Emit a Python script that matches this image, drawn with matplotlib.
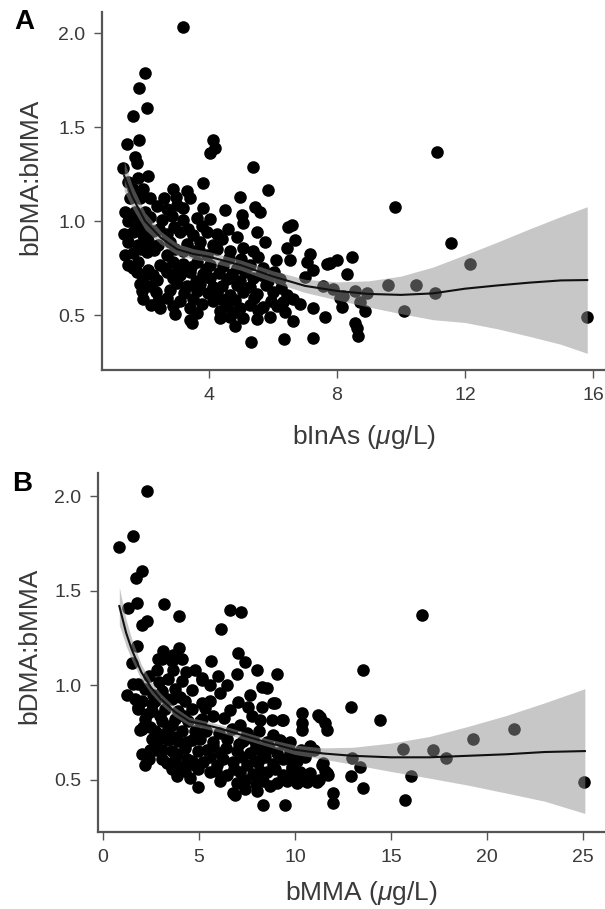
import matplotlib
matplotlib.use("Agg")
import matplotlib.pyplot as plt
import numpy as np

plt.rcParams['font.family'] = ['Liberation Sans', 'DejaVu Sans']
plt.rcParams['mathtext.fontset'] = 'custom'
plt.rcParams['mathtext.it'] = 'Liberation Sans:italic'
plt.rcParams['mathtext.rm'] = 'Liberation Sans'

# ---------------- Panel A data: bInAs vs bDMA:bMMA ----------------
panel_a_points = [
    (3.19, 2.03), (2.00, 1.79), (1.81, 1.71), (2.05, 1.60), (1.63, 1.56), (1.43, 1.41), (1.82, 1.43),
    (1.69, 1.34), (1.76, 1.31), (1.32, 1.28), (2.10, 1.24), (1.79, 1.23), (1.48, 1.21),
    (4.13, 1.43), (4.19, 1.39), (4.03, 1.36), (5.38, 1.29), (5.85, 1.165), (3.81, 1.20), (2.88, 1.17),
    (3.32, 1.16), (3.41, 1.12), (4.97, 1.126), (3.82, 1.07), (4.50, 1.06), (5.44, 1.076), (5.59, 1.05),
    (5.02, 1.03), (6.48, 0.97), (4.60, 0.96), (5.07, 0.99), (5.49, 0.94), (6.69, 0.90), (6.43, 0.855),
    (5.75, 0.89), (7.16, 0.824), (6.53, 0.79), (7.05, 0.78), (7.78, 0.775), (7.99, 0.79), (8.30, 0.72),
    (8.46, 0.81), (8.20, 0.60), (7.26, 0.74), (7.63, 0.49), (6.84, 0.56), (7.26, 0.535), (6.32, 0.57),
    (6.63, 0.47), (5.91, 0.49), (5.49, 0.48), (4.81, 0.44), (4.66, 0.49), (5.31, 0.356), (6.34, 0.37),
    (7.25, 0.38), (3.47, 0.46),
    (9.81, 1.076), (11.12, 1.365), (11.55, 0.881), (12.16, 0.77), (15.82, 0.49), (9.60, 0.66),
    (10.46, 0.66), (11.06, 0.615), (10.10, 0.52), (7.70, 0.77), (6.58, 0.98), (7.00, 0.70),
    (7.57, 0.654), (7.88, 0.64), (8.56, 0.63), (8.95, 0.615), (8.09, 0.59), (8.15, 0.545),
    (8.72, 0.57), (8.88, 0.52), (8.56, 0.455), (8.62, 0.43), (8.67, 0.39),
    (2.37, 1.081), (2.68, 1.066), (2.99, 1.085), (3.20, 1.071),
    (1.53, 1.019), (1.84, 1.004), (2.16, 1.022), (2.52, 1.008), (2.84, 1.025), (3.20, 1.003),
    (3.62, 1.018), (4.03, 1.010), (1.47, 1.00),
    (1.63, 0.942), (1.95, 0.926), (2.26, 0.947), (2.68, 0.930), (3.09, 0.944), (3.51, 0.925),
    (3.93, 0.941), (4.24, 0.931),
    (1.48, 0.889), (1.79, 0.874), (2.10, 0.893), (2.42, 0.870), (2.78, 0.886), (3.30, 0.876),
    (3.72, 0.890), (4.13, 0.872),
    (2.05, 0.835), (2.68, 0.820), (3.51, 0.838), (3.93, 0.821), (1.63, 0.83),
    (1.48, 0.768), (1.79, 0.782), (2.47, 0.766), (2.88, 0.784), (3.20, 0.770), (3.62, 0.781), (4.03, 0.767),
    (1.74, 0.729), (2.26, 0.715), (2.68, 0.731), (3.09, 0.712), (3.41, 0.728), (3.82, 0.716), (1.95, 0.70),
    (1.84, 0.667), (2.16, 0.652), (2.99, 0.668), (3.30, 0.655), (3.72, 0.664), (4.13, 0.651),
    (1.95, 0.587), (2.42, 0.573), (2.68, 0.590), (3.09, 0.575), (3.51, 0.585), (4.13, 0.572),
    (2.47, 0.535), (3.41, 0.535), (3.41, 0.473),
    (1.53, 1.12), (1.84, 1.12), (2.16, 1.12), (1.63, 1.17), (1.95, 1.17), (1.38, 1.05), (1.69, 1.05), (2.00, 1.05),
    (4.24, 0.852), (4.66, 0.838), (5.07, 0.855), (5.38, 0.840),
    (4.45, 0.763), (4.87, 0.750), (5.28, 0.766), (5.70, 0.752),
    (4.55, 0.692), (4.97, 0.679), (5.38, 0.695), (5.85, 0.681), (6.22, 0.690),
    (4.24, 0.621), (4.66, 0.608), (5.07, 0.624), (5.49, 0.610), (6.01, 0.620), (6.43, 0.607),
    (4.55, 0.550), (4.97, 0.538), (5.28, 0.553), (5.70, 0.540), (6.12, 0.548),
    (4.34, 0.484), (5.07, 0.484),
    # additional points filling the dense cloud
    (1.71, 0.962), (2.03, 0.975), (2.43, 0.958), (2.91, 0.968), (3.33, 0.955), (3.78, 0.972),
    (1.88, 0.853), (2.29, 0.846), (2.93, 0.851), (3.18, 0.838), (3.68, 0.848),
    (1.62, 0.748), (2.09, 0.742), (2.61, 0.752), (3.02, 0.738), (3.43, 0.757), (3.91, 0.744),
    (2.37, 0.688), (2.86, 0.695), (3.58, 0.683), (4.02, 0.697),
    (1.91, 0.628), (2.33, 0.621), (2.79, 0.634), (3.21, 0.617), (3.63, 0.630), (3.97, 0.615),
    (2.18, 0.552), (2.87, 0.547), (3.77, 0.556), (2.93, 0.505), (3.62, 0.512),
    (4.41, 0.905), (4.88, 0.915), (4.62, 0.805), (5.01, 0.797), (5.52, 0.808), (6.08, 0.795),
    (4.31, 0.722), (4.72, 0.716), (5.13, 0.727), (5.61, 0.713), (6.03, 0.728),
    (4.42, 0.652), (4.86, 0.660), (5.27, 0.648), (5.78, 0.657), (6.24, 0.645),
    (4.38, 0.585), (4.82, 0.578), (5.41, 0.590), (5.93, 0.576), (6.62, 0.585),
    (4.35, 0.522), (4.81, 0.515), (5.52, 0.526), (6.38, 0.518),
    (2.58, 1.12), (2.96, 1.13), (1.35, 0.93), (1.39, 0.82),
]
a_x = [p[0] for p in panel_a_points]
a_y = [p[1] for p in panel_a_points]

fit_a_x = [1.35, 1.6, 2.0, 2.5, 3.0, 3.5, 4.0, 5.0, 6.0, 7.0, 8.0, 9.0, 10.0, 11.0, 12.0, 13.0, 14.0, 15.0, 15.82]
fit_a_y = [1.24, 1.13, 1.00, 0.91, 0.85, 0.825, 0.81, 0.765, 0.705, 0.655, 0.628, 0.612, 0.607, 0.615, 0.64, 0.657, 0.672, 0.684, 0.686]
fit_a_half = [0.08, 0.06, 0.045, 0.035, 0.03, 0.028, 0.027, 0.027, 0.03, 0.035, 0.048, 0.07, 0.10, 0.14, 0.18, 0.23, 0.285, 0.34, 0.39]

# ---------------- Panel B data: bMMA vs bDMA:bMMA ----------------
panel_b_points = [
    (2.27, 2.03), (0.85, 1.73), (1.55, 1.79), (2.01, 1.607), (1.72, 1.567), (1.79, 1.435), (1.32, 1.41),
    (3.18, 1.43), (3.97, 1.37), (2.27, 1.34), (2.01, 1.32), (6.13, 1.297), (6.61, 1.40), (7.17, 1.39),
    (7.05, 1.17), (7.40, 1.126), (5.61, 1.13), (3.97, 1.197), (3.14, 1.18), (3.66, 1.16), (2.88, 1.14),
    (1.75, 1.21), (8.00, 1.08), (4.80, 1.08), (3.66, 1.08), (2.80, 1.08), (5.14, 1.04), (4.62, 0.976),
    (1.23, 0.95), (1.84, 1.01), (2.01, 0.92), (2.54, 0.90), (5.14, 0.906), (2.10, 0.78), (2.80, 0.747),
    (3.40, 0.71), (4.10, 0.76), (2.01, 0.64), (2.19, 0.58), (2.71, 0.66), (3.75, 0.606), (4.10, 0.57),
    (4.79, 0.58), (4.96, 0.465), (6.88, 0.42), (8.35, 0.368), (9.48, 0.37), (8.00, 0.44),
    (9.08, 1.06), (8.53, 0.985), (8.87, 0.906), (10.35, 0.853), (9.39, 0.817), (10.35, 0.765),
    (9.83, 0.57), (10.60, 0.50), (6.00, 1.05), (6.96, 1.06), (5.57, 1.00), (7.66, 0.95), (8.26, 0.99),
    (7.57, 0.888), (8.26, 0.888), (8.96, 0.906), (8.18, 0.82), (8.79, 0.82), (9.31, 0.82),
    (10.35, 0.80), (11.21, 0.844), (11.56, 0.80), (11.65, 0.765),
    (13.52, 1.08), (12.90, 0.888), (14.43, 0.817), (21.40, 0.768), (19.26, 0.715), (15.64, 0.662),
    (17.20, 0.659), (17.86, 0.615), (16.02, 0.52), (15.73, 0.394), (25.05, 0.488), (13.52, 0.456),
    (12.90, 0.52), (13.39, 0.57), (12.95, 0.615), (12.00, 0.43), (12.00, 0.377), (16.60, 1.373),
    (11.30, 0.835), (11.40, 0.58), (11.56, 0.55), (11.70, 0.526),
    (9.74, 0.70), (10.30, 0.66), (10.80, 0.68), (9.90, 0.63), (10.50, 0.62), (11.00, 0.66),
    (9.74, 0.53), (10.30, 0.50), (10.74, 0.52), (11.25, 0.50),
    (5.05, 0.716), (5.75, 0.703), (6.44, 0.719), (7.31, 0.705), (7.83, 0.718), (8.53, 0.702), (9.22, 0.714),
    (5.40, 0.657), (6.09, 0.643), (6.96, 0.655), (7.66, 0.641), (8.18, 0.658), (9.05, 0.644), (9.74, 0.653), (10.61, 0.646),
    (5.22, 0.595), (5.92, 0.581), (6.79, 0.594), (7.48, 0.580), (8.09, 0.596), (8.87, 0.583), (9.91, 0.592), (11.47, 0.588),
    (5.57, 0.541), (6.44, 0.528), (7.14, 0.543), (7.83, 0.530), (8.53, 0.540), (9.39, 0.527), (10.26, 0.542),
    (10.78, 0.535), (11.65, 0.535),
    (6.09, 0.496), (6.96, 0.484), (8.35, 0.495), (9.05, 0.483), (9.57, 0.494), (10.09, 0.486), (10.61, 0.49), (11.13, 0.49),
    (6.79, 0.43),
    (5.05, 0.81), (5.75, 0.84), (6.61, 0.87), (7.14, 0.79), (5.57, 0.92), (6.09, 0.96), (6.44, 1.00),
    (3.06, 1.141), (3.58, 1.128), (4.10, 1.138),
    (3.40, 1.036), (4.10, 1.024), (5.14, 1.03),
    (2.19, 0.983), (3.06, 0.970), (3.75, 0.981),
    (1.67, 0.929), (2.71, 0.916), (3.58, 0.930), (4.27, 0.918),
    (1.84, 0.876), (2.54, 0.863), (3.23, 0.878), (3.92, 0.865), (4.62, 0.874),
    (2.19, 0.823), (3.06, 0.810), (3.75, 0.824), (4.44, 0.811), (5.14, 0.821),
    (2.01, 0.771), (2.71, 0.758), (3.40, 0.772), (4.79, 0.760),
    (2.54, 0.716), (3.92, 0.704), (4.62, 0.714),
    (2.71, 0.666), (3.58, 0.653), (4.27, 0.667), (4.96, 0.655),
    (3.06, 0.612), (4.62, 0.600),
    (3.58, 0.559), (4.27, 0.547), (4.96, 0.557),
    (1.49, 1.117), (1.57, 1.01), (1.83, 0.886), (1.93, 0.765), (2.45, 0.66),
    # additional points filling the dense cloud
    (2.38, 1.05), (2.92, 1.02), (4.35, 1.07), (2.63, 0.95), (3.33, 0.93), (4.02, 0.94),
    (2.28, 0.85), (2.97, 0.84), (3.62, 0.79), (4.21, 0.84), (2.47, 0.78), (3.17, 0.74),
    (2.83, 0.70), (3.71, 0.73), (4.38, 0.70), (3.09, 0.66), (3.87, 0.64), (2.41, 0.61),
    (3.33, 0.59), (4.38, 0.61), (3.85, 0.52), (4.52, 0.51),
    (5.38, 0.76), (6.02, 0.75), (6.71, 0.77), (7.48, 0.75), (8.12, 0.76), (8.88, 0.74),
    (5.71, 0.68), (6.39, 0.67), (7.08, 0.69), (7.97, 0.68), (8.63, 0.67), (9.42, 0.69),
    (5.58, 0.62), (6.27, 0.61), (7.22, 0.62), (7.91, 0.60), (8.42, 0.62), (9.38, 0.61), (10.12, 0.60),
    (5.91, 0.55), (6.81, 0.56), (8.16, 0.55), (8.98, 0.56), (9.82, 0.56),
    (7.42, 0.50), (7.96, 0.48), (8.71, 0.47), (7.38, 0.45),
    (5.32, 0.88), (6.28, 0.83), (7.03, 0.91), (7.78, 0.84),
]
b_x = [p[0] for p in panel_b_points]
b_y = [p[1] for p in panel_b_points]

fit_b_x = [0.85, 1.2, 1.5, 2.0, 2.5, 3.0, 3.75, 4.5, 5.2, 6.0, 7.0, 8.5, 10.0, 11.5, 13.0, 15.0, 17.0, 19.0, 21.0, 23.0, 25.1]
fit_b_y = [1.42, 1.28, 1.19, 1.07, 0.99, 0.93, 0.86, 0.81, 0.795, 0.775, 0.745, 0.70, 0.66, 0.64, 0.628, 0.62, 0.62, 0.628, 0.636, 0.648, 0.653]
fit_b_half = [0.10, 0.07, 0.055, 0.04, 0.032, 0.028, 0.025, 0.022, 0.02, 0.02, 0.02, 0.02, 0.025, 0.03, 0.045, 0.075, 0.11, 0.155, 0.205, 0.26, 0.33]

a_xticks = [4, 8, 12, 16]
b_xticks = [0, 5, 10, 15, 20, 25]
yticks = [0.5, 1.0, 1.5, 2.0]
ytick_labels = ['0.5', '1.0', '1.5', '2.0']

W, H = 605, 909
fig = plt.figure(figsize=(W / 100, H / 100), dpi=100)


def rect(l, r, t, b):
    return [l / W, 1 - b / H, (r - l) / W, (b - t) / H]


axA = fig.add_axes(rect(102, 605, 12, 370))
axB = fig.add_axes(rect(98, 605, 473, 832))

spine_col = '#555555'
text_col = '#3a3a3a'


def draw(ax, xs, ys, fx, fy, fh, xlim, ylim, xticks, xlabel):
    ax.scatter(xs, ys, s=82, color='black', linewidths=0, zorder=2)
    fx = np.array(fx); fy = np.array(fy); fh = np.array(fh)
    ax.fill_between(fx, fy - fh, fy + fh, color='#909090', alpha=0.5, linewidth=0, zorder=3)
    ax.plot(fx, fy, color='#111111', lw=1.5, zorder=4)
    ax.set_xlim(*xlim)
    ax.set_ylim(*ylim)
    ax.set_xticks(xticks)
    ax.set_xticklabels([str(t) for t in xticks])
    ax.set_yticks(yticks)
    ax.set_yticklabels(ytick_labels)
    for s in ['top', 'right']:
        ax.spines[s].set_visible(False)
    for s in ['left', 'bottom']:
        ax.spines[s].set_color(spine_col)
        ax.spines[s].set_linewidth(1.6)
    ax.tick_params(direction='out', length=6, width=1, colors=spine_col,
                   labelcolor=text_col, labelsize=14, pad=6)
    ax.set_xlabel(xlabel, fontsize=19, color=text_col)
    ax.set_ylabel('bDMA:bMMA', fontsize=19, color=text_col)
    ax.xaxis.label.set_va('center')
    ax.yaxis.label.set_va('center')
    ax.patch.set_alpha(0)


draw(axA, a_x, a_y, fit_a_x, fit_a_y, fit_a_half, (0.656, 16.375), (0.2074, 2.112),
     a_xticks, 'bInAs ($\\mu$g/L)')
axA.xaxis.set_label_coords(0.52, (370 - 437) / 358)
axA.yaxis.set_label_coords((30 - 102) / 503, 0.54)

draw(axB, b_x, b_y, fit_b_x, fit_b_y, fit_b_half, (-0.26, 26.15), (0.2249, 2.124),
     b_xticks, 'bMMA ($\\mu$g/L)')
axB.xaxis.set_label_coords(0.52, (832 - 893) / 359)
axB.yaxis.set_label_coords((29 - 98) / 507, 0.518)

fig.text(24 / W, 1 - 22 / H, 'A', fontsize=20, fontweight='bold', ha='center', va='center', color='black')
fig.text(22 / W, 1 - 484 / H, 'B', fontsize=20, fontweight='bold', ha='center', va='center', color='black')

fig.savefig('out.png', dpi=100)
